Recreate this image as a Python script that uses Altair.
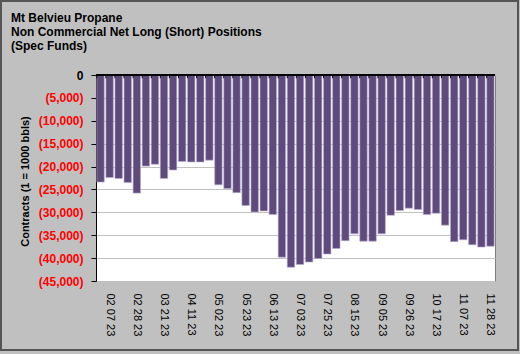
import altair as alt
import pandas as pd

dates = ["01 31 23", "02 07 23", "02 14 23", "02 21 23", "02 28 23", "03 07 23", "03 14 23",
         "03 21 23", "03 28 23", "04 04 23", "04 11 23", "04 18 23", "04 25 23", "05 02 23",
         "05 09 23", "05 16 23", "05 23 23", "05 30 23", "06 06 23", "06 13 23", "06 20 23",
         "06 27 23", "07 03 23", "07 11 23", "07 18 23", "07 25 23", "08 01 23", "08 08 23",
         "08 15 23", "08 22 23", "08 29 23", "09 05 23", "09 12 23", "09 19 23", "09 26 23",
         "10 03 23", "10 10 23", "10 17 23", "10 24 23", "10 31 23", "11 07 23", "11 14 23",
         "11 21 23", "11 28 23"]
positions = [-23400, -22400, -22600, -23500, -25800, -19900, -19500, -22600, -20750, -18900,
             -19000, -19000, -18600, -24000, -24800, -25700, -28500, -29900, -29700, -30500,
             -39800, -42000, -41400, -40850, -40100, -39100, -37900, -36200, -34700, -36300,
             -36300, -34700, -30650, -29600, -29100, -29400, -30500, -30200, -32800, -36400,
             -36000, -37100, -37600, -37400]
label_dates = ["02 07 23", "02 28 23", "03 21 23", "04 11 23", "05 02 23", "05 23 23",
               "06 13 23", "07 03 23", "07 25 23", "08 15 23", "09 05 23", "09 26 23",
               "10 17 23", "11 07 23", "11 28 23"]
y_ticks = [0, -5000, -10000, -15000, -20000, -25000, -30000, -35000, -40000, -45000]
title_lines = ["Mt Belvieu Propane", "Non Commercial Net Long (Short) Positions", "(Spec Funds)"]

df = pd.DataFrame({"date": dates, "pos": positions})

FONT = "Liberation Sans"
W, H = 399, 206

x = alt.X("date:N", sort=dates, title=None,
          scale=alt.Scale(paddingInner=0.18, paddingOuter=0.09),
          axis=alt.Axis(values=label_dates, tickCount=len(dates), labelAngle=90, labelFont=FONT,
                        labelFontSize=11, labelColor="black", labelPadding=12, ticks=False,
                        domain=False, grid=False, labelOverlap=False))
y = alt.Y("pos:Q", title="Contracts (1 = 1000 bbls)",
          scale=alt.Scale(domain=[-45000, 0], nice=False),
          axis=alt.Axis(values=y_ticks, tickCount=len(y_ticks),
                        labelExpr="datum.value == 0 ? '0' : '(' + format(abs(datum.value), ',') + ')'",
                        labelColor={"condition": {"test": "datum.value == 0", "value": "black"}, "value": "#FF0000"},
                        labelFont=FONT, labelFontSize=12, labelFontWeight="bold", labelPadding=8,
                        labelOverlap=False, labelFlush=False, labelBound=False,
                        tickColor="black", tickSize=5, domainColor="black", domainWidth=1,
                        gridColor="#C0C0C0", gridWidth=1,
                        titleFont=FONT, titleFontSize=11, titleFontWeight="bold", titleColor="black",
                        titleX=-66, titleY=106, titleAngle=-90))

bars = alt.Chart(df).mark_bar(color="#5F4A7C", stroke="#BBAED3", strokeWidth=0.6).encode(x=x, y=y)

zero = alt.Chart(df).mark_rule(color="black", strokeWidth=2).encode(y=alt.datum(0))

zero_ticks = alt.Chart(df).mark_rule(color="black", strokeWidth=1).encode(
    x=alt.X("date:N", sort=dates, bandPosition=0),
    y=alt.datum(0), y2=alt.datum(-700))

frame = alt.Chart(df).mark_rect(fill=None, stroke="#555555", strokeWidth=2, clip=False).encode(
    x=alt.value(-95), x2=alt.value(W + 23), y=alt.value(-74), y2=alt.value(H + 69))

chart = alt.layer(bars, zero, zero_ticks, frame).properties(
    width=W, height=H,
    autosize=alt.AutoSizeParams(type="none"),
    padding={"left": 96, "top": 75, "right": 25, "bottom": 73},
    background="#C0C0C0",
    title=alt.TitleParams(text=title_lines, anchor="start", frame="group", font=FONT,
                          fontSize=12, fontWeight="bold", color="black", lineHeight=14,
                          baseline="bottom", dx=-85, dy=65, offset=0),
).configure_view(fill="white", stroke="#808080", strokeWidth=1
).configure_axis(labelOverlap=False, labelFlush=False)

chart.save("out.html", embed_options={"renderer": "svg", "actions": False})
